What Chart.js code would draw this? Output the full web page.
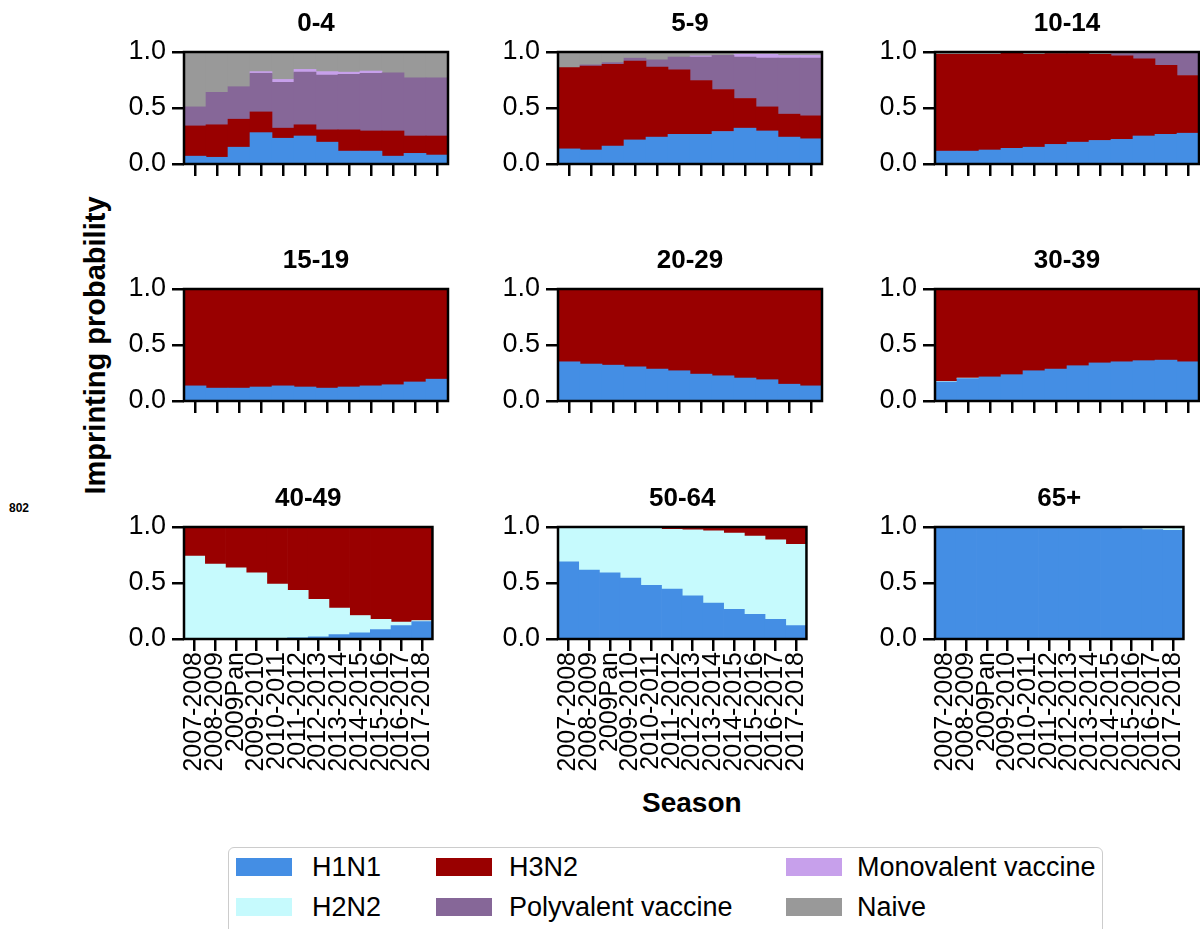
<!DOCTYPE html>
<html>
<head>
<meta charset="utf-8">
<script src="https://cdn.jsdelivr.net/npm/chart.js@4.4.1/dist/chart.umd.min.js"></script>
<style>
  html, body { margin: 0; padding: 0; background: #fff; overflow: hidden; }
  body { width: 1200px; height: 929px; position: relative; font-family: "Liberation Sans", Arial, sans-serif; color: #000; }
  canvas { position: absolute; }
  .axis-title { position: absolute; font-weight: bold; font-size: 28px; white-space: nowrap; transform-origin: center center; }
  .legend { position: absolute; left: 228px; top: 847px; width: 875px; height: 100px; border: 1.5px solid #cccccc; border-radius: 6px; box-sizing: border-box; }
  .legend .item { position: absolute; font-size: 27px; line-height: 28px; white-space: nowrap; }
  .legend .swatch { position: absolute; left: 0; width: 56px; height: 18px; }
  .legend .label { position: absolute; top: 0; }
</style>
</head>
<body>

<div class="axis-title" id="ylab" style="font-size:29px">Imprinting probability</div>
<div class="axis-title" id="xlab">Season</div>
<div style="position:absolute;left:9px;top:501px;font-size:12px;font-weight:bold;">802</div>
<div class="legend" id="legend"></div>

<script>
// seasons on the x axis of every panel
var seasons = ['2007-2008', '2008-2009', '2009Pan', '2009-2010', '2010-2011', '2011-2012',
               '2012-2013', '2013-2014', '2014-2015', '2015-2016', '2016-2017', '2017-2018'];

// one panel per age group
var ageGroups = ['0-4', '5-9', '10-14', '15-19', '20-29', '30-39', '40-49', '50-64', '65+'];

var yTicks = [0, 0.5, 1];

// imprinting probabilities, one row per age group (same order as ageGroups)
var h1n1 = [
  [0.07, 0.06, 0.15, 0.28, 0.23, 0.25, 0.195, 0.115, 0.115, 0.07, 0.095, 0.08],
  [0.135, 0.125, 0.16, 0.215, 0.24, 0.265, 0.265, 0.29, 0.32, 0.295, 0.24, 0.225],
  [0.115, 0.115, 0.125, 0.14, 0.15, 0.175, 0.195, 0.21, 0.22, 0.25, 0.265, 0.275],
  [0.135, 0.115, 0.115, 0.125, 0.135, 0.125, 0.115, 0.125, 0.135, 0.145, 0.17, 0.195],
  [0.35, 0.33, 0.32, 0.305, 0.285, 0.27, 0.24, 0.225, 0.205, 0.19, 0.15, 0.135],
  [0.17, 0.2, 0.215, 0.235, 0.27, 0.285, 0.315, 0.34, 0.35, 0.36, 0.365, 0.35],
  [0, 0, 0, 0, 0, 0.01, 0.02, 0.04, 0.055, 0.085, 0.12, 0.155],
  [0.69, 0.615, 0.59, 0.545, 0.48, 0.445, 0.385, 0.32, 0.265, 0.22, 0.175, 0.12],
  [0.997, 0.997, 0.997, 0.997, 0.997, 0.997, 0.996, 0.995, 0.993, 0.985, 0.978, 0.97]
];
var h2n2 = [
  [0, 0, 0, 0, 0, 0, 0, 0, 0, 0, 0, 0],
  [0, 0, 0, 0, 0, 0, 0, 0, 0, 0, 0, 0],
  [0, 0, 0, 0, 0, 0, 0, 0, 0, 0, 0, 0],
  [0, 0, 0, 0, 0, 0, 0, 0, 0, 0, 0, 0],
  [0, 0, 0, 0, 0, 0, 0, 0, 0, 0, 0, 0],
  [0.005, 0.005, 0, 0, 0, 0, 0, 0, 0, 0, 0, 0],
  [0.74, 0.67, 0.635, 0.59, 0.49, 0.425, 0.335, 0.235, 0.155, 0.09, 0.03, 0.01],
  [0.31, 0.385, 0.41, 0.45, 0.51, 0.535, 0.59, 0.645, 0.68, 0.7, 0.71, 0.725],
  [0.002, 0.002, 0.002, 0.002, 0.002, 0.002, 0.003, 0.003, 0.004, 0.012, 0.018, 0.025]
];
var h3n2 = [
  [0.27, 0.29, 0.25, 0.185, 0.09, 0.1, 0.11, 0.19, 0.18, 0.225, 0.155, 0.17],
  [0.725, 0.75, 0.73, 0.705, 0.625, 0.575, 0.48, 0.375, 0.265, 0.215, 0.205, 0.205],
  [0.865, 0.865, 0.855, 0.85, 0.83, 0.81, 0.79, 0.77, 0.745, 0.69, 0.615, 0.515],
  [0.865, 0.885, 0.885, 0.875, 0.865, 0.875, 0.885, 0.875, 0.865, 0.855, 0.83, 0.805],
  [0.65, 0.67, 0.68, 0.695, 0.715, 0.73, 0.76, 0.775, 0.795, 0.81, 0.85, 0.865],
  [0.825, 0.795, 0.785, 0.765, 0.73, 0.715, 0.685, 0.66, 0.65, 0.64, 0.635, 0.65],
  [0.26, 0.33, 0.365, 0.41, 0.51, 0.565, 0.645, 0.725, 0.79, 0.825, 0.85, 0.835],
  [0, 0, 0, 0.005, 0.01, 0.02, 0.025, 0.035, 0.055, 0.08, 0.115, 0.155],
  [0.001, 0.001, 0.001, 0.001, 0.001, 0.001, 0.001, 0.002, 0.003, 0.003, 0.004, 0.005]
];
var polyvalent = [
  [0.17, 0.29, 0.29, 0.345, 0.41, 0.47, 0.49, 0.495, 0.515, 0.52, 0.52, 0.52],
  [0, 0.01, 0.015, 0.025, 0.065, 0.115, 0.21, 0.305, 0.37, 0.435, 0.5, 0.515],
  [0, 0, 0, 0, 0, 0, 0, 0, 0.02, 0.05, 0.115, 0.205],
  [0, 0, 0, 0, 0, 0, 0, 0, 0, 0, 0, 0],
  [0, 0, 0, 0, 0, 0, 0, 0, 0, 0, 0, 0],
  [0, 0, 0, 0, 0, 0, 0, 0, 0, 0, 0, 0],
  [0, 0, 0, 0, 0, 0, 0, 0, 0, 0, 0, 0],
  [0, 0, 0, 0, 0, 0, 0, 0, 0, 0, 0, 0],
  [0, 0, 0, 0, 0, 0, 0, 0, 0, 0, 0, 0]
];
var monovalent = [
  [0, 0, 0, 0.015, 0.025, 0.025, 0.03, 0.02, 0.02, 0, 0, 0],
  [0, 0, 0, 0, 0, 0, 0.01, 0, 0.025, 0.035, 0.025, 0.025],
  [0, 0, 0, 0, 0, 0, 0, 0, 0, 0, 0, 0],
  [0, 0, 0, 0, 0, 0, 0, 0, 0, 0, 0, 0],
  [0, 0, 0, 0, 0, 0, 0, 0, 0, 0, 0, 0],
  [0, 0, 0, 0, 0, 0, 0, 0, 0, 0, 0, 0],
  [0, 0, 0, 0, 0, 0, 0, 0, 0, 0, 0, 0],
  [0, 0, 0, 0, 0, 0, 0, 0, 0, 0, 0, 0],
  [0, 0, 0, 0, 0, 0, 0, 0, 0, 0, 0, 0]
];
var naive = [
  [0.49, 0.36, 0.31, 0.175, 0.245, 0.155, 0.175, 0.18, 0.17, 0.185, 0.23, 0.23],
  [0.14, 0.115, 0.095, 0.055, 0.07, 0.045, 0.035, 0.03, 0.02, 0.02, 0.03, 0.03],
  [0.02, 0.02, 0.02, 0.01, 0.02, 0.015, 0.015, 0.02, 0.015, 0.01, 0.005, 0.005],
  [0, 0, 0, 0, 0, 0, 0, 0, 0, 0, 0, 0],
  [0, 0, 0, 0, 0, 0, 0, 0, 0, 0, 0, 0],
  [0, 0, 0, 0, 0, 0, 0, 0, 0, 0, 0, 0],
  [0, 0, 0, 0, 0, 0, 0, 0, 0, 0, 0, 0],
  [0, 0, 0, 0, 0, 0, 0, 0, 0, 0, 0, 0],
  [0, 0, 0, 0, 0, 0, 0, 0, 0, 0, 0, 0]
];

var FONT = '"Liberation Sans", Arial, sans-serif';

// stacking order, bottom to top
var series = [
  { name: 'H1N1', data: h1n1, color: '#448ee4' },
  { name: 'H2N2', data: h2n2, color: '#c6fafd' },
  { name: 'H3N2', data: h3n2, color: '#990000' },
  { name: 'Polyvalent vaccine', data: polyvalent, color: '#866798' },
  { name: 'Monovalent vaccine', data: monovalent, color: '#c7a0eb' },
  { name: 'Naive', data: naive, color: '#999999' }
];

// panel grid geometry (plot area of each panel)
var colLeft = [184, 558, 935];
var rowTop = [52, 289, 527];
var plotW = 264, plotH = 112;
var yAxisW = 90, titleH = 41, padRight = 6;

Chart.defaults.font.family = FONT;
Chart.defaults.color = '#000';

// black box around each plot area
var framePlugin = {
  id: 'frame',
  afterDatasetsDraw: function(chart) {
    var a = chart.chartArea, ctx = chart.ctx;
    ctx.save();
    ctx.strokeStyle = '#000';
    ctx.lineWidth = 2.5;
    ctx.strokeRect(a.left, a.top, a.right - a.left, a.bottom - a.top);
    ctx.restore();
  }
};

function makePanel(idx) {
  var col = idx % 3, row = Math.floor(idx / 3);
  var bottomRow = row === 2;
  var xAxisH = bottomRow ? 155 : 24;

  var canvas = document.createElement('canvas');
  var w = yAxisW + plotW + padRight;
  var h = titleH + plotH + xAxisH;
  canvas.width = w;
  canvas.height = h;
  canvas.style.width = w + 'px';
  canvas.style.height = h + 'px';
  canvas.style.left = (colLeft[col] - yAxisW) + 'px';
  canvas.style.top = (rowTop[row] - titleH) + 'px';
  document.body.appendChild(canvas);

  var datasets = series.map(function(s) {
    return {
      label: s.name,
      data: s.data[idx].map(function(v) { return v > 0 ? v : null; }),
      backgroundColor: s.color,
      borderWidth: 0,
      barPercentage: 1,
      categoryPercentage: 1
    };
  });

  var tickGrid = {
    display: true,
    drawOnChartArea: false,
    drawTicks: true,
    tickLength: 12,
    tickWidth: 2.5,
    tickColor: '#000',
    lineWidth: 2.5,
    color: '#000'
  };

  new Chart(canvas.getContext('2d'), {
    type: 'bar',
    data: { labels: seasons, datasets: datasets },
    options: {
      responsive: false,
      animation: false,
      events: [],
      layout: { padding: { left: 0, right: padRight, top: 0, bottom: 0 } },
      plugins: {
        legend: { display: false },
        tooltip: { enabled: false },
        title: {
          display: true,
          fullSize: false,
          text: ageGroups[idx],
          color: '#000',
          font: { family: FONT, size: 26, weight: 'bold', lineHeight: 1 },
          padding: { top: 0, bottom: 15 }
        }
      },
      scales: {
        x: {
          stacked: true,
          grid: Object.assign({ offset: false }, tickGrid),
          border: { display: false },
          ticks: {
            display: bottomRow,
            autoSkip: false,
            minRotation: 90,
            maxRotation: 90,
            padding: 1,
            color: '#000',
            font: { family: FONT, size: 25 }
          },
          afterFit: function(scale) { scale.height = xAxisH; }
        },
        y: {
          stacked: true,
          min: 0,
          max: 1,
          grid: tickGrid,
          border: { display: false },
          afterBuildTicks: function(scale) {
            scale.ticks = yTicks.map(function(v) { return { value: v }; });
          },
          ticks: {
            padding: 6,
            color: '#000',
            font: { family: FONT, size: 27 },
            callback: function(v) { return Number(v).toFixed(1); }
          },
          afterFit: function(scale) { scale.width = yAxisW; }
        }
      }
    },
    plugins: [framePlugin]
  });
}

for (var i = 0; i < ageGroups.length; i++) makePanel(i);

// axis titles shared by the grid
var ylab = document.getElementById('ylab');
ylab.style.left = (95 - ylab.offsetWidth / 2) + 'px';
ylab.style.top = (345 - ylab.offsetHeight / 2) + 'px';
ylab.style.transform = 'rotate(-90deg)';
var xlab = document.getElementById('xlab');
xlab.style.left = (692 - xlab.offsetWidth / 2) + 'px';
xlab.style.top = (803 - xlab.offsetHeight / 2) + 'px';

// legend: two rows, three columns
var legend = document.getElementById('legend');
var legendCols = [[0, 1], [2, 3], [4, 5]];
var swatchX = [7, 207, 557];
var textGap = [76, 73, 71];
legendCols.forEach(function(pair, c) {
  pair.forEach(function(si, r) {
    var s = series[si];
    var item = document.createElement('div');
    item.className = 'item';
    item.style.left = swatchX[c] + 'px';
    item.style.top = (5 + r * 40) + 'px';
    item.innerHTML = '<div class="swatch" style="top:5px;background:' + s.color + '"></div>' +
                     '<div class="label" style="left:' + textGap[c] + 'px">' + s.name + '</div>';
    legend.appendChild(item);
  });
});
</script>
</body>
</html>
